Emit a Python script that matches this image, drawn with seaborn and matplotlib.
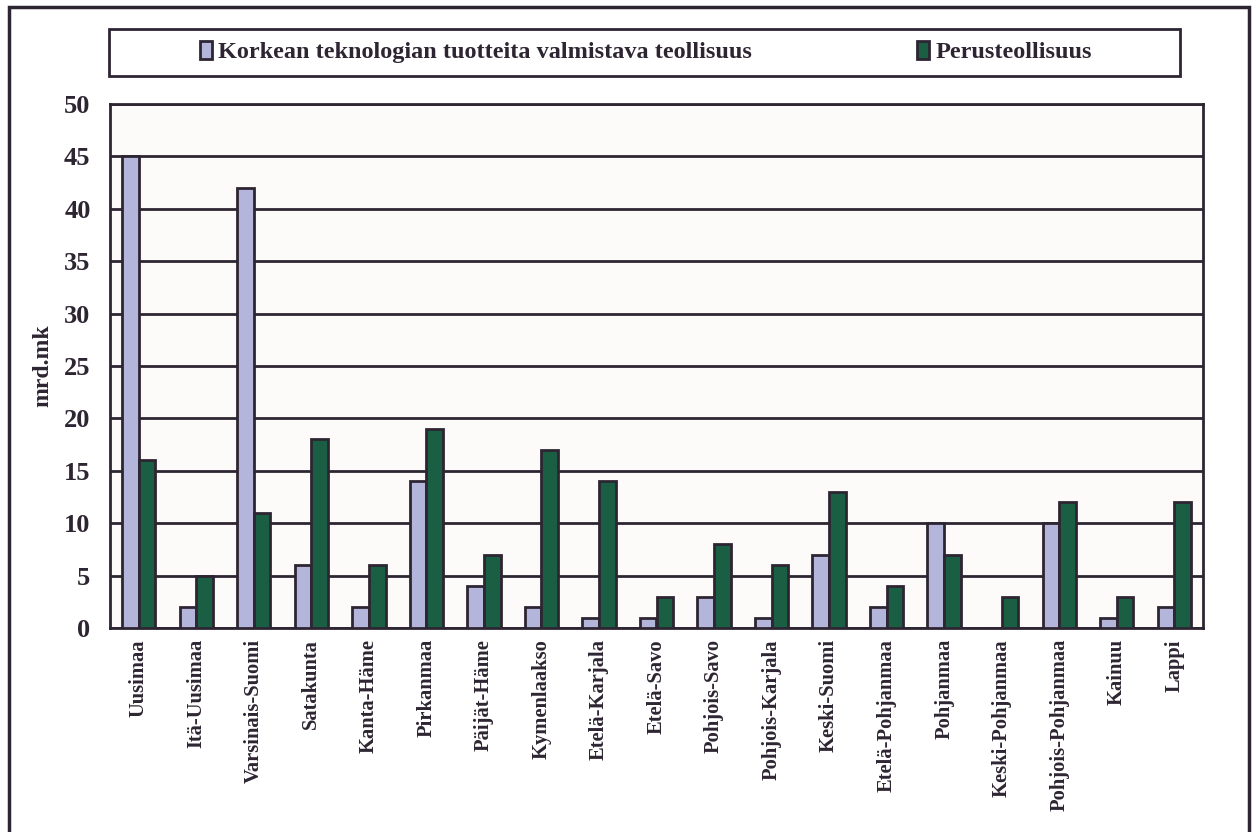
import matplotlib
matplotlib.use("Agg")
import matplotlib.pyplot as plt
from matplotlib.patches import Rectangle, Patch
import seaborn as sns
import pandas as pd

regions = ["Uusimaa", "Itä-Uusimaa", "Varsinais-Suomi", "Satakunta", "Kanta-Häme",
           "Pirkanmaa", "Päijät-Häme", "Kymenlaakso", "Etelä-Karjala", "Etelä-Savo",
           "Pohjois-Savo", "Pohjois-Karjala", "Keski-Suomi", "Etelä-Pohjanmaa",
           "Pohjanmaa", "Keski-Pohjanmaa", "Pohjois-Pohjanmaa", "Kainuu", "Lappi"]
high_tech = [45, 2, 42, 6, 2, 14, 4, 2, 1, 1, 3, 1, 7, 2, 10, 0, 10, 1, 2]
basic_industry = [16, 5, 11, 18, 6, 19, 7, 17, 14, 3, 8, 6, 13, 4, 7, 3, 12, 3, 12]
series_names = ["Korkean teknologian tuotteita valmistava teollisuus", "Perusteollisuus"]
y_ticks = [0, 5, 10, 15, 20, 25, 30, 35, 40, 45, 50]
y_label = "mrd.mk"

colors = ["#B3B6DA", "#1A5E44"]
ink = "#2E2532"

df = pd.DataFrame({
    "region": regions * 2,
    "value": high_tech + basic_industry,
    "series": [series_names[0]] * len(regions) + [series_names[1]] * len(regions),
})

sns.set_theme(style="white")
plt.rcParams["font.family"] = ["Liberation Serif", "DejaVu Serif"]
plt.rcParams["font.weight"] = "bold"

W, H = 1253, 832
fig = plt.figure(figsize=(W / 100, H / 100), dpi=100)
fig.patch.set_facecolor("white")

# outer frame of the figure
fig.patches.append(Rectangle((9 / W, -0.05), (1249 - 9) / W, 1.05 - 7 / H,
                             transform=fig.transFigure, fill=False,
                             edgecolor=ink, linewidth=2.5, zorder=0))

ax = fig.add_axes([110 / W, 1 - 628 / H, (1203 - 110) / W, (628 - 104) / H])
ax.set_facecolor("#FDFBF9")

sns.barplot(data=df, x="region", y="value", hue="series", order=regions,
            hue_order=series_names, palette=colors, width=0.58, gap=0,
            edgecolor=ink, linewidth=2, saturation=1, legend=False, ax=ax, zorder=3)

ax.set_xlim(-0.5, len(regions) - 0.5)
ax.set_ylim(0, 50)
ax.set_yticks(y_ticks)
ax.set_yticklabels([str(t) for t in y_ticks], fontsize=19, fontweight="bold", color=ink)
ax.yaxis.grid(True, color=ink, linewidth=2, zorder=1)
ax.set_axisbelow(True)

# category ticks sit between the groups
ax.set_xticks(range(len(regions)))
ax.set_xticklabels(regions, rotation=90, fontsize=14.8, fontweight="bold", color=ink)
ax.tick_params(axis="x", which="major", length=0, pad=8)
ax.set_xticks([i - 0.5 for i in range(len(regions) + 1)], minor=True)
ax.tick_params(axis="x", which="minor", length=7, width=2, color=ink, direction="out")
ax.tick_params(axis="y", length=9, width=2, color=ink, direction="out", pad=5)
ax.set_xlabel("")
ax.set_ylabel(y_label, fontsize=17, fontweight="bold", color=ink, labelpad=8)

for side in ["left", "right", "top", "bottom"]:
    ax.spines[side].set_visible(True)
    ax.spines[side].set_color(ink)
    ax.spines[side].set_linewidth(2)

# legend box above the plot
fig.patches.append(Rectangle((109 / W, 1 - 76 / H), (1180 - 109) / W, (76 - 29) / H,
                             transform=fig.transFigure, facecolor="white",
                             edgecolor=ink, linewidth=2, zorder=1))
handles = [Patch(facecolor=c, edgecolor=ink, linewidth=2) for c in colors]
fig.legend(handles, series_names, loc="center", ncol=2,
           bbox_to_anchor=(646 / W, 1 - 52 / H), frameon=False,
           prop={"size": 17.5, "weight": "bold"}, handlelength=0.5, handleheight=0.75,
           handletextpad=0.25, columnspacing=6.8, labelcolor=ink)

fig.savefig("out.png", dpi=100, facecolor="white")
